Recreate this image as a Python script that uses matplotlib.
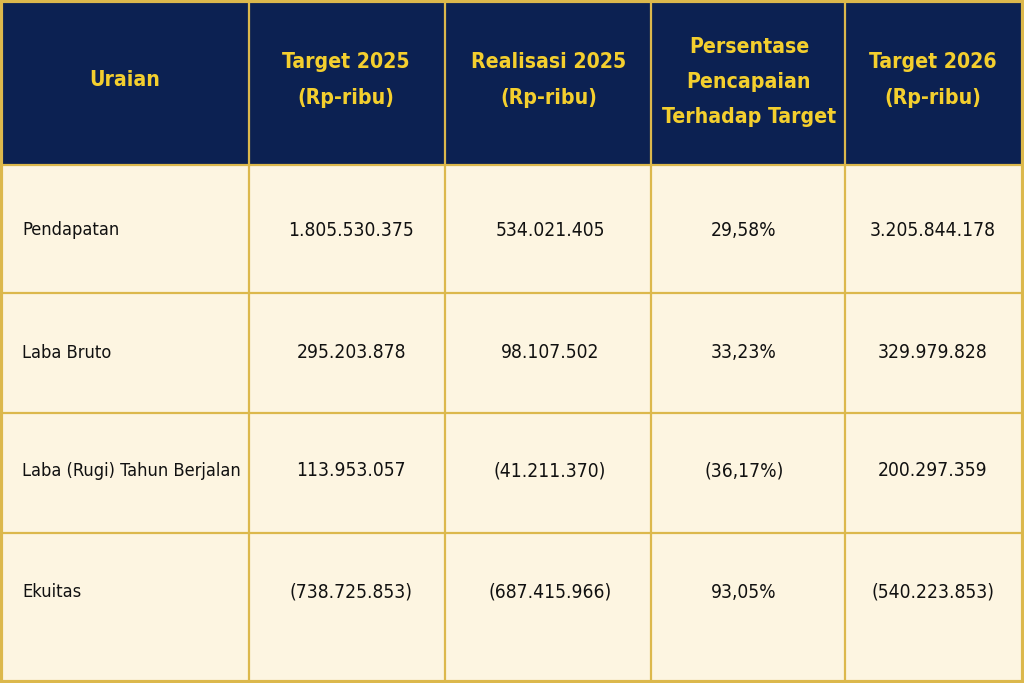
import matplotlib
matplotlib.use("Agg")
import matplotlib.pyplot as plt
from matplotlib.patches import Rectangle

# ---- data ----
headers = ["Uraian", "Target 2025\n(Rp-ribu)", "Realisasi 2025\n(Rp-ribu)",
           "Persentase\nPencapaian\nTerhadap Target", "Target 2026\n(Rp-ribu)"]
items = ["Pendapatan", "Laba Bruto", "Laba (Rugi) Tahun Berjalan", "Ekuitas"]
target_2025 = ["1.805.530.375", "295.203.878", "113.953.057", "(738.725.853)"]
realisasi_2025 = ["534.021.405", "98.107.502", "(41.211.370)", "(687.415.966)"]
persentase = ["29,58%", "33,23%", "(36,17%)", "93,05%"]
target_2026 = ["3.205.844.178", "329.979.828", "200.297.359", "(540.223.853)"]

# ---- layout (pixels) ----
W, H = 1024, 683
col_edges = [0, 249, 445, 651, 845, 1024]
row_edges = [0, 165, 293, 413, 533, 683]
text_y = [80, 230, 353, 471, 592]
header_x = [125, 346, 549, 749, 933]
body_x = [22, 351, 550, 744, 933]

navy = "#0c2152"
gold_text = "#f4cf2e"
cream = "#fdf5e1"
border = "#dcb84c"
ink = "#111111"

fams = ["DejaVu Sans"]

fig = plt.figure(figsize=(W / 100, H / 100), dpi=100)
ax = fig.add_axes([0, 0, 1, 1])
ax.set_xlim(0, W)
ax.set_ylim(H, 0)
ax.axis("off")

ax.add_patch(Rectangle((0, row_edges[0]), W, row_edges[1] - row_edges[0], color=navy, zorder=0))
ax.add_patch(Rectangle((0, row_edges[1]), W, H - row_edges[1], color=cream, zorder=0))

for x in col_edges:
    ax.plot([x, x], [0, H], color=border, lw=1.6, zorder=2)
for y in row_edges:
    ax.plot([0, W], [y, y], color=border, lw=1.6, zorder=2)
ax.plot([1, 1], [0, H], color=border, lw=3, zorder=2)
ax.plot([W - 1, W - 1], [0, H], color=border, lw=3, zorder=2)
ax.plot([0, W], [1, 1], color=border, lw=3, zorder=2)
ax.plot([0, W], [H - 1, H - 1], color=border, lw=3, zorder=2)

for i, h in enumerate(headers):
    y = text_y[0] + (2 if h.count("\n") == 2 else 0)
    ax.text(header_x[i], y, h, ha="center", va="center", color=gold_text,
            fontsize=15.2, fontweight="bold", family=fams, fontstretch="condensed",
            linespacing=1.95, zorder=3)

columns = [target_2025, realisasi_2025, persentase, target_2026]
for r, name in enumerate(items):
    y = text_y[r + 1]
    ax.text(body_x[0], y, name, ha="left", va="center", color=ink, fontsize=13.1,
            family=fams, fontstretch="condensed", zorder=3)
    for c, col in enumerate(columns):
        ax.text(body_x[c + 1], y, col[r], ha="center", va="center", color=ink,
                fontsize=13.8, family=fams, fontstretch="condensed", zorder=3)

fig.savefig("out.png", dpi=100)
